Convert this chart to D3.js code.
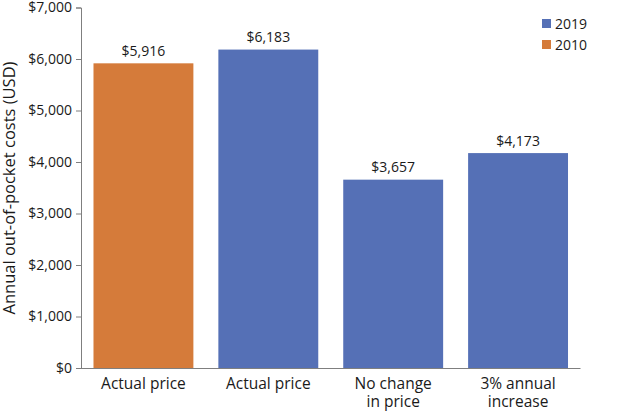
<!DOCTYPE html>
<html>
<head>
<meta charset="utf-8">
<script src="https://cdn.jsdelivr.net/npm/d3@7"></script>
<style>
  body { margin: 0; background: #fff; }
  svg text { font-family: "Open Sans", sans-serif; fill: #1a1a1a; }
</style>
</head>
<body>
<svg id="chart" width="637" height="413"></svg>
<script>
// ── DATA ──────────────────────────────────────────────
const categories = [['Actual price'], ['Actual price'], ['No change', 'in price'], ['3% annual', 'increase']];
const values     = [5916, 6183, 3657, 4173];
const years      = ['2010', '2019', '2019', '2019'];
const legendKeys = ['2019', '2010'];
const yTicks     = [0, 1000, 2000, 3000, 4000, 5000, 6000, 7000];

const COLORS = { '2019': '#5570b6', '2010': '#d57b3a' };

// ── LAYOUT ────────────────────────────────────────────
const svg = d3.select('#chart');
const plotL = 81, plotR = 580.5, plotT = 7.5, plotB = 368;

const x = d3.scaleBand()
  .domain(d3.range(values.length))
  .range([plotL, plotR])
  .paddingInner(0.2)
  .paddingOuter(0.1);

const y = d3.scaleLinear().domain([0, 7000]).range([plotB, plotT]);
const fmt = v => '$' + d3.format(',')(v);

// ── BARS ──────────────────────────────────────────────
svg.selectAll('rect.bar')
  .data(values)
  .enter().append('rect')
    .attr('class', 'bar')
    .attr('x', (d, i) => x(i))
    .attr('width', x.bandwidth())
    .attr('y', d => y(d))
    .attr('height', d => y(0) - y(d))
    .attr('fill', (d, i) => COLORS[years[i]]);

// value labels
svg.selectAll('text.val')
  .data(values)
  .enter().append('text')
    .attr('class', 'val')
    .attr('x', (d, i) => x(i) + x.bandwidth() / 2)
    .attr('y', d => y(d) - 7.5)
    .attr('text-anchor', 'middle')
    .attr('font-size', 14)
    .text(fmt);

// ── Y AXIS ────────────────────────────────────────────
const yAxis = svg.append('g')
  .attr('transform', `translate(${plotL},0)`)
  .call(d3.axisLeft(y).tickValues(yTicks).tickFormat(fmt).tickSize(5).tickPadding(4));
yAxis.select('.domain').attr('stroke', '#7f7f7f');
yAxis.selectAll('.tick line').attr('stroke', '#7f7f7f');
yAxis.selectAll('.tick text').attr('font-size', 14).attr('fill', '#1a1a1a');

// baseline
svg.append('line')
  .attr('x1', plotL - 5).attr('x2', plotR)
  .attr('y1', y(0) + 0.5).attr('y2', y(0) + 0.5)
  .attr('stroke', '#7f7f7f');

// y title
svg.append('text')
  .attr('transform', `translate(14.5,188) rotate(-90)`)
  .attr('text-anchor', 'middle')
  .attr('font-size', 16.5)
  .text('Annual out-of-pocket costs (USD)');

// ── X LABELS ──────────────────────────────────────────
const xl = svg.selectAll('text.cat')
  .data(categories)
  .enter().append('text')
    .attr('class', 'cat')
    .attr('text-anchor', 'middle')
    .attr('font-size', 15.5)
    .attr('x', (d, i) => x(i) + x.bandwidth() / 2)
    .attr('y', 388.5);
xl.selectAll('tspan')
  .data(d => d)
  .enter().append('tspan')
    .attr('x', function() { return this.parentNode.getAttribute('x'); })
    .attr('dy', (d, i) => i ? 18 : 0)
    .text(d => d);

// ── LEGEND ────────────────────────────────────────────
const lg = svg.selectAll('g.leg')
  .data(legendKeys)
  .enter().append('g')
    .attr('transform', (d, i) => `translate(542,${19 + i * 21})`);
lg.append('rect').attr('width', 9).attr('height', 9).attr('fill', d => COLORS[d]);
lg.append('text').attr('x', 13).attr('y', 9.5).attr('font-size', 14).text(d => d);
</script>
</body>
</html>
